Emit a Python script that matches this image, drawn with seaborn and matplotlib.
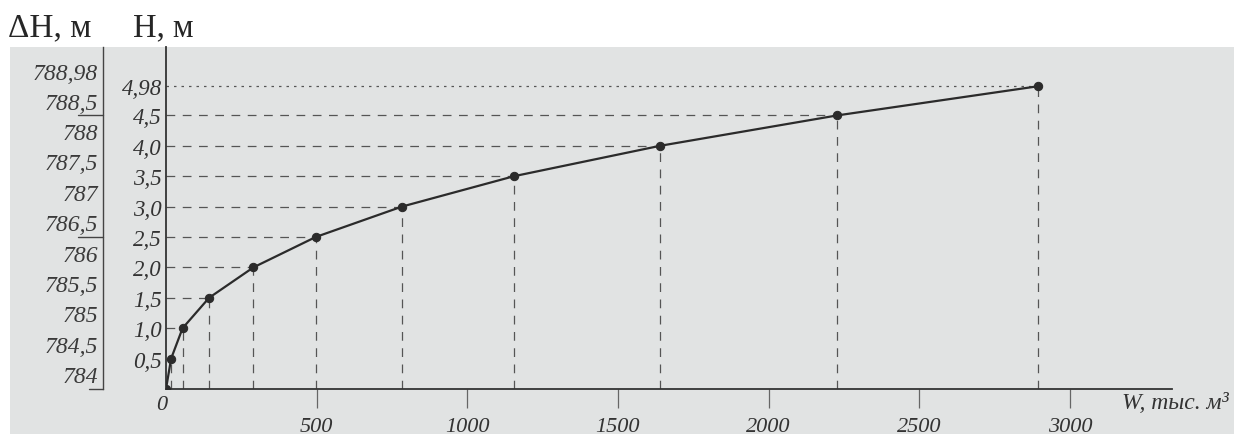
import matplotlib.pyplot as plt
import seaborn as sns
import pandas as pd
from matplotlib.patches import Rectangle

# W, тыс. м3  vs  H, м
volume_w = [0, 17, 55, 143, 290, 497, 783, 1155, 1640, 2228, 2895]
depth_h = [0, 0.5, 1.0, 1.5, 2.0, 2.5, 3.0, 3.5, 4.0, 4.5, 4.98]
h_tick_labels = ["0,5", "1,0", "1,5", "2,0", "2,5", "3,0", "3,5", "4,0", "4,5", "4,98"]
abs_levels = [784, 784.5, 785, 785.5, 786, 786.5, 787, 787.5, 788, 788.5, 788.98]
abs_labels = ["784", "784,5", "785", "785,5", "786", "786,5", "787", "787,5", "788", "788,5", "788,98"]
w_ticks = [500, 1000, 1500, 2000, 2500, 3000]

sns.set_theme(style="white")
plt.rcParams["font.family"] = ["Liberation Serif", "DejaVu Serif"]

W_PX, H_PX = 1234, 439
fig = plt.figure(figsize=(W_PX / 100, H_PX / 100), dpi=100)
fig.patch.set_facecolor("white")

# scanned page background
fig.patches.append(Rectangle((10 / W_PX, 4 / H_PX), 1 - 10 / W_PX, (435 - 48) / H_PX,
                             transform=fig.transFigure, facecolor="#e1e3e3",
                             edgecolor="none", zorder=-5))

x0, x1 = 166, 1172
y_axis, y_top = 390, 48
px_per_m = 60.8
ymax = (y_axis - y_top) / px_per_m
bottom = (H_PX - y_axis) / H_PX
height = (y_axis - y_top) / H_PX

ax = fig.add_axes([x0 / W_PX, bottom, (x1 - x0) / W_PX, height])
ax.set_facecolor("none")
ax.set_xlim(0, (x1 - x0) / 0.3013)
ax.set_ylim(0, ymax)

df = pd.DataFrame({"W": volume_w, "H": depth_h})

# guide lines
for w, h in zip(volume_w[1:], depth_h[1:]):
    ls = (0, (2, 4)) if h == depth_h[-1] else (0, (7, 6))
    ax.plot([0, w], [h, h], color="#555555", lw=0.9, ls=ls, zorder=1)
    ax.plot([w, w], [0, h], color="#555555", lw=0.9, ls=(0, (7, 6)), zorder=1)

sns.lineplot(data=df, x="W", y="H", ax=ax, color="#2b2b2b", lw=1.6,
             marker="o", markersize=6, markeredgecolor="#2b2b2b", zorder=3)

for s in ["top", "right"]:
    ax.spines[s].set_visible(False)
for s in ["left", "bottom"]:
    ax.spines[s].set_color("#333333")
    ax.spines[s].set_linewidth(1.3)

ax.set_xticks(w_ticks)
ax.set_xticklabels([str(t) for t in w_ticks], fontsize=16, style="italic", color="#333333")
ax.tick_params(axis="x", bottom=True, direction="out", length=14, width=0.9,
               color="#666666", pad=6)
ax.set_yticks(depth_h[1:])
ax.set_yticklabels(h_tick_labels, fontsize=16.5, style="italic", color="#333333")
ax.tick_params(axis="y", left=False, length=0, pad=3)
ax.set_xlabel("")
ax.set_ylabel("")

ax.annotate("0", xy=(0, 0), xytext=(-3, -11), textcoords="offset points",
            ha="center", va="center", fontsize=16, style="italic", color="#333333")
ax.annotate("W, тыс. м³", xy=(1, 0), xycoords="axes fraction", xytext=(-36, -2),
            textcoords="offset points", ha="left", va="top", fontsize=17,
            style="italic", color="#333333")

# absolute level scale on the left
lx0, lx1 = 78, 103
ax2 = fig.add_axes([lx0 / W_PX, bottom, (lx1 - lx0) / W_PX, height])
ax2.set_facecolor("none")
ax2.set_xlim(0, 1)
ax2.set_ylim(abs_levels[0], abs_levels[0] + ymax)
ax2.set_xticks([])
ax2.set_yticks([])
for s in ["top", "left", "bottom"]:
    ax2.spines[s].set_visible(False)
ax2.spines["right"].set_color("#444444")
ax2.spines["right"].set_linewidth(1.0)
for lev in [788.5, 786.5]:
    ax2.plot([0, 1], [lev, lev], color="#444444", lw=1.0, clip_on=False)
ax2.plot([0.45, 1], [784, 784], color="#444444", lw=1.0, clip_on=False)
for lev, lab in zip(abs_levels, abs_labels):
    ax2.text(0.8, lev + 0.03, lab, ha="right", va="bottom", fontsize=17,
             style="italic", color="#3a3a3a", clip_on=False)

fig.text(8 / W_PX, 1 - 36 / H_PX, "ΔH, м", fontsize=24, ha="left", va="baseline")
fig.text(133 / W_PX, 1 - 36 / H_PX, "H, м", fontsize=23.5, ha="left", va="baseline")

fig.savefig("out.png", dpi=100)
